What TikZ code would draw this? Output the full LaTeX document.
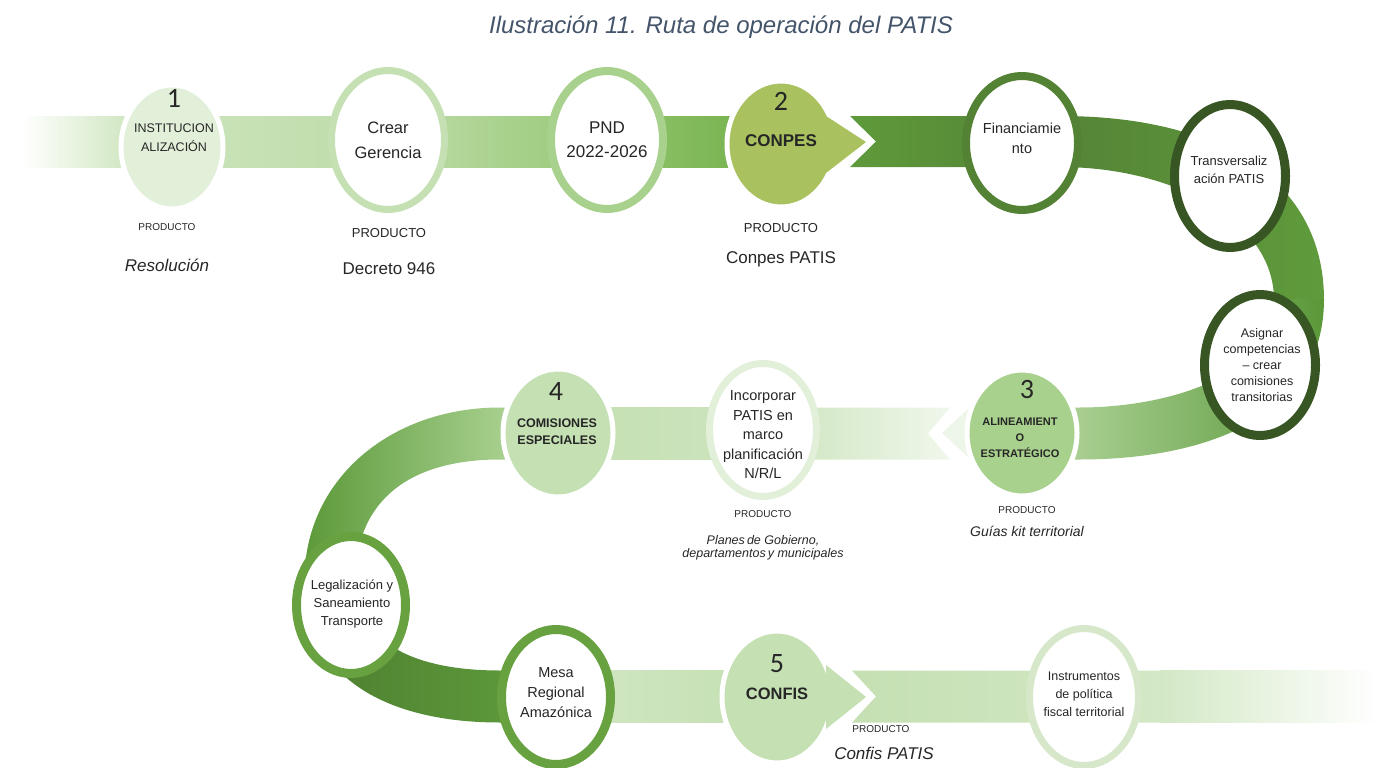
\documentclass[tikz,border=0pt]{standalone}
\usepackage{fontspec}
\setmainfont{Liberation Sans}
\newfontfamily\numfont{Carlito}
\usetikzlibrary{shapes.geometric}
\definecolor{gA}{HTML}{E2EFD9}
\definecolor{gB}{HTML}{C5E0B3}
\definecolor{gC}{HTML}{A9D18E}
\definecolor{gD}{HTML}{70AD47}
\definecolor{gE}{HTML}{548235}
\definecolor{gF}{HTML}{375623}
\definecolor{olive}{HTML}{A9C25F}
\definecolor{midg}{HTML}{68A240}
\definecolor{instr}{HTML}{D6E8C9}
\definecolor{titlec}{HTML}{44546A}
\definecolor{txt}{HTML}{262626}
\newcommand\myfs[2]{\fontsize{#1pt}{#2pt}\selectfont}
\tikzset{
  ringnode/.style={ellipse, draw=#1, fill=white, inner sep=0pt},
  disknode/.style={ellipse, draw=white, line width=5pt, fill=#1, inner sep=0pt},
  lbl/.style={align=center, text=txt, inner sep=0pt},
  numlbl/.style={font=\numfont\myfs{28}{28}, text=txt, inner sep=0pt},
  chevw/.style={draw=white, fill=white, line width=5pt, line join=miter},
}
\begin{document}
\begin{tikzpicture}[x=1pt,y=-1pt]
\useasboundingbox (0,0) rectangle (1379,768);

% title
\node[font=\itshape\myfs{24}{28}, text=titlec, inner sep=0pt] (title) at (721,27) {Ilustración 11. Ruta de operación del PATIS};

% ---------- top band ----------
\shade[left color=white, right color={rgb,255:red,207;green,230;blue,192}] (22,116) rectangle (130,167);
\shade[left color={rgb,255:red,207;green,230;blue,192}, right color={rgb,255:red,188;green,219;blue,167}] (130,116) rectangle (400,167);
\shade[left color={rgb,255:red,188;green,219;blue,167}, right color={rgb,255:red,148;green,199;blue,113}] (400,116) rectangle (620,167);
\shade[left color={rgb,255:red,143;green,196;blue,107}, right color={rgb,255:red,110;green,172;blue,69}] (620,116) rectangle (790,167);
% dark band with notch
\shade[left color={rgb,255:red,94;green,154;blue,59}, right color=gE]
  (850,116) -- (1062,116) -- (1062,167) -- (850,167) -- (876,141.5) -- cycle;
% right loop upper
\shade[left color=gE, right color={rgb,255:red,95;green,155;blue,60}]
  (1040,116) -- (1060,116) .. controls (1222,116) and (1324,182) .. (1324,300)
  -- (1274,300) .. controls (1274,220) and (1172,167) .. (1060,167) -- (1040,167) -- cycle;
% right loop lower
\shade[left color={rgb,255:red,192;green,223;blue,172}, right color={rgb,255:red,90;green,152;blue,57}]
  (1324,299) .. controls (1324,420) and (1200,459.5) .. (1080,459.5) -- (1000,459.5)
  -- (1000,407.5) -- (1080,407.5) .. controls (1160,407.5) and (1274,380) .. (1274,299) -- cycle;

% ---------- middle band ----------
\shade[left color={rgb,255:red,210;green,231;blue,196}, right color={rgb,255:red,240;green,247;blue,236}]
  (800,407.5) -- (950,407.5) -- (928,433.5) -- (950,459.5) -- (800,459.5) -- cycle;
\shade[left color={rgb,255:red,195;green,223;blue,176}, right color={rgb,255:red,207;green,229;blue,193}]
  (540,407.5) rectangle (800,459.5);
% left loop upper
\shade[left color={rgb,255:red,92;green,154;blue,58}, right color={rgb,255:red,181;green,217;blue,157}]
  (540,407.5) -- (500,407.5) .. controls (390,407.5) and (304.5,480) .. (304.5,580)
  -- (355.5,580) .. controls (355.5,500) and (410,459.5) .. (500,459.5) -- (540,459.5) -- cycle;
% left loop lower
\shade[left color={rgb,255:red,78;green,126;blue,48}, right color={rgb,255:red,94;green,156;blue,60}]
  (304.5,580) .. controls (304.5,680) and (390,722.5) .. (500,722.5) -- (540,722.5)
  -- (540,670.5) -- (500,670.5) .. controls (410,670.5) and (355.5,640) .. (355.5,580) -- cycle;

% ---------- bottom band ----------
\shade[left color={rgb,255:red,211;green,232;blue,198}, right color=gB] (540,670.5) rectangle (760,722.5);
\shade[left color=gB, right color={rgb,255:red,211;green,232;blue,197}]
  (852,670.5) -- (1160,670.5) -- (1160,722.5) -- (852,722.5) -- (876,696.5) -- cycle;
\shade[left color={rgb,255:red,211;green,232;blue,197}, right color=white] (1160,670.5) rectangle (1379,722.5);

% ---------- chevrons (white underlay) ----------
\draw[chevw] (828,113) -- (866,142) -- (828,176) -- cycle;
\draw[chevw] (828,662) -- (866,697) -- (828,732) -- cycle;
\draw[chevw, fill={rgb,255:red,238;green,246;blue,234}] (976,398) -- (938,433) -- (976,468) -- cycle;

% ---------- circles ----------
\node[disknode=gA, minimum width=102pt, minimum height=124pt] (inst) at (172,147) {};
\node[ringnode=gB, line width=7pt, minimum width=113pt, minimum height=139pt] (crear) at (388,140) {};
\node[ringnode=gC, line width=8pt, minimum width=112pt, minimum height=138pt] (pnd) at (607,140) {};
\node[disknode=olive, minimum width=108pt, minimum height=126pt] (conpes) at (781,144) {};
\node[ringnode=gE, line width=8pt, minimum width=112pt, minimum height=134pt] (fin) at (1022,143) {};
\node[ringnode=gF, line width=9pt, minimum width=111pt, minimum height=143pt] (trans) at (1230,176) {};
\node[ringnode=gF, line width=9pt, minimum width=111pt, minimum height=141pt] (asig) at (1260,365) {};
\node[disknode=gC, minimum width=110pt, minimum height=126pt] (alin) at (1022,433) {};
\node[ringnode=gA, line width=7pt, minimum width=107pt, minimum height=133pt] (incorp) at (763,430) {};
\node[disknode=gB, minimum width=110pt, minimum height=128pt] (comis) at (558,433) {};
\node[ringnode=midg, line width=9pt, minimum width=109pt, minimum height=137pt] (legal) at (351,605) {};
\node[ringnode=midg, line width=9pt, minimum width=109pt, minimum height=135pt] (mesa) at (556,697) {};
\node[disknode=gB, minimum width=110pt, minimum height=132pt] (confis) at (777,697) {};
\node[ringnode=instr, line width=7pt, minimum width=109pt, minimum height=137pt] (instrum) at (1084,697) {};

% chevron fills over circle rims
\fill[olive] (826,116) -- (866,142) -- (826,173) -- cycle;
\fill[gB] (826,665) -- (866,697) -- (826,729) -- cycle;

% ---------- circle texts ----------
\node[numlbl] (n1) at (174,98) {1};
\node[lbl, font=\myfs{12.5}{19}] (t1) at (174,138) {INSTITUCION\\ALIZACIÓN};
\node[lbl, font=\myfs{16.5}{25}] (t2) at (388,140) {Crear\\Gerencia};
\node[lbl, font=\myfs{17}{24}] (t3) at (607,140) {PND\\2022-2026};
\node[numlbl] (n2) at (781,101) {2};
\node[lbl, font=\bfseries\myfs{17}{20}] (t4) at (781,141) {CONPES};
\node[lbl, font=\myfs{14.5}{20}] (t5) at (1022,138) {Financiamie\\nto};
\node[lbl, font=\myfs{13}{18}] (t6) at (1229,170) {Transversaliz\\ación PATIS};
\node[lbl, font=\myfs{12.5}{16}] (t7) at (1262,365) {Asignar\\competencias\\– crear\\comisiones\\transitorias};
\node[numlbl] (n3) at (1027,390) {3};
\node[lbl, font=\bfseries\myfs{11}{16}] (t8) at (1020,438) {ALINEAMIENT\\O\\ESTRATÉGICO};
\node[lbl, font=\myfs{14.5}{19.5}] (t9) at (763,435) {Incorporar\\PATIS en\\marco\\planificación\\N/R/L};
\node[numlbl] (n4) at (556,392) {4};
\node[lbl, font=\bfseries\myfs{12.5}{17}] (t10) at (557,432) {COMISIONES\\ESPECIALES};
\node[lbl, font=\myfs{13}{18}] (t11) at (352,604) {Legalización y\\Saneamiento\\Transporte};
\node[lbl, font=\myfs{14.5}{20}] (t12) at (556,693) {Mesa\\Regional\\Amazónica};
\node[numlbl] (n5) at (777,664) {5};
\node[lbl, font=\bfseries\myfs{16.5}{20}] (t13) at (777,694) {CONFIS};
\node[lbl, font=\myfs{12.5}{18}] (t14) at (1084,694) {Instrumentos\\de política\\fiscal territorial};

% ---------- product texts ----------
\node[lbl, font=\myfs{10}{12}] (p1a) at (167,227) {PRODUCTO};
\node[lbl, font=\itshape\myfs{17}{20}] (p1b) at (167,265) {Resolución};
\node[lbl, font=\myfs{13}{15}] (p2a) at (389,233) {PRODUCTO};
\node[lbl, font=\myfs{17}{20}] (p2b) at (389,269) {Decreto 946};
\node[lbl, font=\myfs{13}{15}] (p3a) at (781,228) {PRODUCTO};
\node[lbl, font=\myfs{17}{20}] (p3b) at (781,259) {Conpes PATIS};
\node[lbl, font=\myfs{10}{12}] (p4a) at (763,514) {PRODUCTO};
\node[lbl, font=\itshape\myfs{12.5}{13}] (p4b) at (763,548) {Planes\,de Gobierno,\\departamentos\,y municipales};
\node[lbl, font=\myfs{10}{12}] (p5a) at (1027,510) {PRODUCTO};
\node[lbl, font=\itshape\myfs{14}{16}] (p5b) at (1027,531) {Guías kit territorial};
\node[lbl, font=\myfs{10}{12}] (p6a) at (881,729) {PRODUCTO};
\node[lbl, font=\itshape\myfs{17}{20}] (p6b) at (884,753) {Confis PATIS};
\end{tikzpicture}
\end{document}
